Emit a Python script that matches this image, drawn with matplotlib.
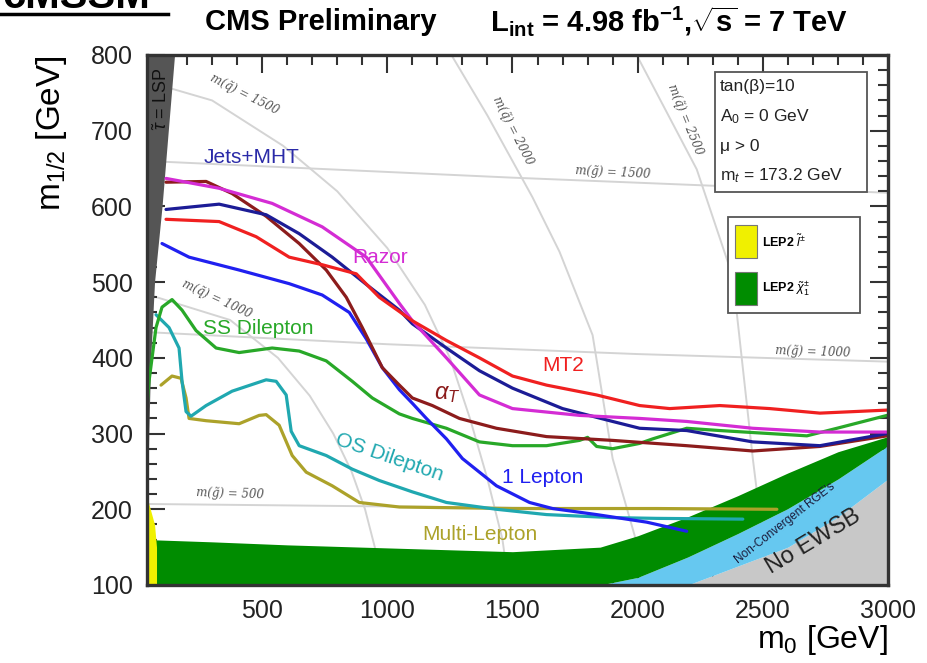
import matplotlib.pyplot as plt
import numpy as np
from matplotlib.ticker import MultipleLocator
from matplotlib.patches import Rectangle

plt.rcParams['font.family'] = ['Liberation Sans', 'DejaVu Sans']
plt.rcParams['mathtext.fontset'] = 'custom'
plt.rcParams['mathtext.rm'] = 'Liberation Sans'
plt.rcParams['mathtext.it'] = 'Liberation Sans:italic'
plt.rcParams['mathtext.bf'] = 'Liberation Sans:bold'

# ---- exclusion limits (m0, m1/2) in GeV ----
razor_m0 = [116, 328, 540, 740, 916, 1048, 1100, 1236, 1368, 1500, 1768, 2008, 2196, 2460, 2728, 2996]
razor_m12 = [637, 624, 604, 573, 533, 472, 449, 400, 351, 333, 324, 320, 316, 307, 302, 302]

mt2_m0 = [116, 328, 476, 608, 740, 876, 968, 1100, 1236, 1368, 1500, 1636, 1836, 2008, 2128, 2328, 2528, 2728, 2996]
mt2_m12 = [583, 580, 560, 533, 523, 511, 480, 449, 423, 400, 376, 364, 351, 337, 333, 337, 333, 327, 331]

jets_m0 = [116, 328, 516, 648, 780, 916, 1048, 1100, 1236, 1368, 1500, 1700, 1900, 2008, 2196, 2460, 2728, 2996]
jets_m12 = [596, 603, 589, 564, 533, 497, 463, 445, 413, 383, 360, 333, 316, 307, 304, 289, 284, 300]

alphat_m0 = [116, 276, 380, 516, 648, 756, 836, 900, 980, 1048, 1100, 1180, 1288, 1436, 1636, 1900, 2196, 2460, 2728, 2996]
alphat_m12 = [632, 633, 617, 587, 551, 516, 480, 440, 387, 364, 347, 337, 320, 307, 296, 291, 284, 277, 283, 297]

onelep_m0 = [100, 208, 408, 608, 740, 848, 916, 980, 1048, 1100, 1156, 1236, 1300, 1436, 1568, 1660, 1836, 2036, 2196]
onelep_m12 = [551, 533, 516, 498, 483, 460, 425, 387, 358, 340, 320, 293, 267, 231, 209, 201, 193, 183, 171]

ss_m0 = [40, 48, 76, 100, 140, 180, 236, 316, 408, 540, 648, 756, 860, 940, 1048, 1100, 1236, 1368,
         1500, 1636, 1768, 1800, 1836, 1900, 2008, 2060, 2196, 2328, 2528, 2676, 2796, 2996]
ss_m12 = [335, 369, 440, 467, 477, 463, 436, 413, 407, 413, 409, 396, 369, 347, 326, 320, 307, 289,
          284, 284, 291, 295, 283, 280, 287, 293, 307, 304, 300, 297, 307, 324]

os_m0 = [76, 128, 168, 180, 196, 216, 276, 380, 516, 556, 596, 616, 648, 756, 860, 968, 1100, 1236,
         1436, 1636, 1900, 2076, 2420]
os_m12 = [457, 440, 413, 369, 329, 323, 337, 356, 371, 369, 351, 303, 284, 271, 253, 238, 223, 209,
          200, 193, 189, 188, 187]

multi_m0 = [96, 140, 176, 196, 208, 276, 408, 488, 516, 568, 620, 676, 780, 888, 1048, 1500, 2076, 2556]
multi_m12 = [364, 376, 373, 347, 320, 317, 313, 324, 325, 311, 271, 249, 231, 209, 203, 201, 201, 200]

# ---- theoretically / LEP excluded regions ----
stau_m12 = [800, 700, 600, 500, 400, 300, 215]
stau_m0 = [150, 125, 100, 70, 55, 47, 42]

slep_m12 = [100, 150, 180, 210]
slep_m0 = [78, 78, 70, 45]

band_m0 = [40, 300, 600, 900, 1200, 1500, 1850, 2000, 2200, 2400, 2600, 2800, 3000]
chi_top = [160, 157, 153, 150, 147, 144, 150, 165, 190, 218, 248, 276, 296]
chi_bot = [100, 100, 100, 100, 100, 100, 100, 110, 137, 168, 201, 240, 284]
ewsb_top = [100, 100, 100, 100, 100, 100, 100, 100, 100, 125, 150, 190, 240]

# ---- iso-mass contours ----
sq1000_m0 = [40, 372, 563, 690, 784, 857, 911, 950, 978]
sq1000_m12 = [484, 450, 400, 350, 300, 250, 200, 150, 100]
sq1500_m0 = [40, 300, 584, 800, 1000, 1150, 1250, 1330, 1400, 1460, 1485]
sq1500_m12 = [765, 740, 680, 620, 545, 470, 400, 320, 240, 160, 100]
sq2000_m0 = [1256, 1400, 1580, 1688, 1760, 1820, 1900, 1996, 2010]
sq2000_m12 = [800, 720, 612, 540, 480, 430, 267, 156, 100]
sq2500_m0 = [1996, 2236, 2380, 2460, 2500, 2516, 2525]
sq2500_m12 = [800, 649, 507, 267, 160, 111, 100]
gl500_m0 = [40, 3000]
gl500_m12 = [207, 197]
gl1000_m0 = [40, 1000, 2000, 3000]
gl1000_m12 = [434, 418, 405, 395]
gl1500_m0 = [40, 1500, 3000]
gl1500_m12 = [660, 638, 618]

fig = plt.figure(figsize=(9.27, 6.63), dpi=100)
ax = fig.add_axes([147 / 927, 1 - 585 / 663, (888 - 147) / 927, (585 - 55) / 663])
ax.set_xlim(40, 3000)
ax.set_ylim(100, 800)

# contours
cc = '#d4d4d4'
for xs, ys in [(sq1000_m0, sq1000_m12), (sq1500_m0, sq1500_m12), (sq2000_m0, sq2000_m12),
               (sq2500_m0, sq2500_m12), (gl500_m0, gl500_m12), (gl1000_m0, gl1000_m12),
               (gl1500_m0, gl1500_m12)]:
    ax.plot(xs, ys, color=cc, lw=1.4, zorder=1)

lab = dict(color='#555555', fontsize=8.5, family='DejaVu Serif', style='italic', zorder=2,
           ha='center', va='center')
ax.text(428, 748, 'm(q̃) = 1500', rotation=-27, **lab)
ax.text(318, 478, 'm(q̃) = 1000', rotation=-25, **lab)
ax.text(1500, 700, 'm(q̃) = 2000', rotation=-63, **lab)
ax.text(2190, 715, 'm(q̃) = 2500', rotation=-68, **lab)
ax.text(1900, 645, 'm(g̃) = 1500', rotation=-3, **lab)
ax.text(2700, 408, 'm(g̃) = 1000', rotation=-2, **lab)
ax.text(370, 220, 'm(g̃) = 500', rotation=-2, **lab)

# filled regions
ax.fill_between(band_m0, 100, ewsb_top, color='#c8c8c8', lw=0, zorder=3)
ax.fill_between(band_m0, ewsb_top, chi_bot, color='#66c8f0', lw=0, zorder=3)
ax.fill_between(band_m0, chi_bot, chi_top, color='#008c00', lw=0, zorder=3)
ax.fill_betweenx(stau_m12, 40, stau_m0, color='#555555', lw=0, zorder=3)
ax.fill_betweenx(slep_m12, 40, slep_m0, color='#f0f000', lw=0, zorder=3)

# limit curves
curves = [
    (multi_m0, multi_m12, '#aca22a'),
    (os_m0, os_m12, '#20a8b0'),
    (ss_m0, ss_m12, '#28a828'),
    (onelep_m0, onelep_m12, '#2020f0'),
    (alphat_m0, alphat_m12, '#8c1c1c'),
    (jets_m0, jets_m12, '#1c1c96'),
    (razor_m0, razor_m12, '#d42cd4'),
    (mt2_m0, mt2_m12, '#f02020'),
]
for xs, ys, c in curves:
    ax.plot(xs, ys, color=c, lw=2.3, solid_capstyle='round', solid_joinstyle='round', zorder=4)

fs = 15
ax.text(265, 658, 'Jets+MHT', color='#2a2aa8', fontsize=fs, zorder=5)
ax.text(860, 525, 'Razor', color='#d42cd4', fontsize=fs, zorder=5)
ax.text(265, 432, 'SS Dilepton', color='#28a828', fontsize=fs, zorder=5)
ax.text(1620, 383, 'MT2', color='#f02020', fontsize=fs, zorder=5)
ax.text(1185, 345, r'$\alpha_T$', color='#8c1c1c', fontsize=fs + 2, zorder=5)
ax.text(1010, 268, 'OS Dilepton', color='#20a8b0', fontsize=fs, rotation=-19, zorder=5,
        ha='center', va='center')
ax.text(1460, 235, '1 Lepton', color='#2020f0', fontsize=fs, zorder=5)
ax.text(1140, 160, 'Multi-Lepton', color='#aca22a', fontsize=fs, zorder=5)
ax.text(2590, 182, "Non-Convergent RGE's", fontsize=8.5, rotation=38, color='#1a1a3a',
        ha='center', va='center', zorder=5)
ax.text(2700, 158, 'No EWSB', fontsize=17, rotation=31, color='#222222',
        ha='center', va='center', zorder=5)
ax.text(98, 742, r'$\tilde{\tau}$ = LSP', fontsize=13, rotation=90, color='#111111',
        ha='center', va='center', zorder=5)

# parameter box (axes fraction)
ax.add_patch(Rectangle((0.7665, 0.7415), 0.205, 0.2265, transform=ax.transAxes,
                       fc='white', ec='#555555', lw=1.3, zorder=6))
for yy, t in zip([0.94, 0.884, 0.827, 0.772],
                 ['tan(β)=10', 'A$_0$ = 0 GeV', 'μ > 0', 'm$_t$ = 173.2 GeV']):
    ax.text(0.773, yy, t, transform=ax.transAxes, fontsize=12.5, color='#222222',
            va='center', ha='left', zorder=7)

# legend box (axes fraction)
ax.add_patch(Rectangle((0.784, 0.513), 0.178, 0.181, transform=ax.transAxes,
                       fc='white', ec='#555555', lw=1.3, zorder=6))
ax.add_patch(Rectangle((0.7935, 0.617), 0.0295, 0.062, transform=ax.transAxes,
                       fc='#f0f000', ec='#777777', lw=0.8, zorder=7))
ax.add_patch(Rectangle((0.7935, 0.528), 0.0295, 0.063, transform=ax.transAxes,
                       fc='#008c00', ec='#777777', lw=0.8, zorder=7))
ax.text(0.83, 0.648, r'LEP2 $\tilde{l}^{\pm}$', transform=ax.transAxes, fontsize=9,
        fontweight='bold', va='center', zorder=7)
ax.text(0.83, 0.560, r'LEP2 $\tilde{\chi}^{\pm}_{1}$', transform=ax.transAxes, fontsize=9,
        fontweight='bold', va='center', zorder=7)

# axes styling
ax.xaxis.set_major_locator(MultipleLocator(500))
ax.xaxis.set_minor_locator(MultipleLocator(100))
ax.yaxis.set_major_locator(MultipleLocator(100))
ax.yaxis.set_minor_locator(MultipleLocator(20))
ax.tick_params(which='both', direction='in', top=True, right=True, width=1.5, colors='#333333',
               labelcolor='#222222', labelsize=18, zorder=8)
ax.tick_params(which='major', length=13, pad=10)
ax.tick_params(which='minor', length=7)
for s in ax.spines.values():
    s.set_linewidth(2.4)
    s.set_color('#333333')
    s.set_zorder(9)

ax.set_xlabel('m$_0$ [GeV]', fontsize=23, loc='right', labelpad=0)
ax.set_ylabel('m$_{1/2}$ [GeV]', fontsize=24, loc='top', labelpad=16)

fig.text(205 / 927, 1 - 22 / 663, 'CMS Preliminary', fontsize=21, fontweight='bold',
         va='center', ha='left')
fig.text(490 / 927, 1 - 22 / 663,
         r'L$_{\mathbf{int}}$ = 4.98 fb$^{\mathbf{-1}}$,$\sqrt{\mathbf{s}}$ = 7 TeV',
         fontsize=21, fontweight='bold', va='center', ha='left')

# clipped header from page
fig.text(2 / 927, 1 - 8 / 663, 'cMSSM', fontsize=30, fontweight='bold', va='baseline', ha='left')
fig.add_artist(plt.Line2D([0, 168 / 927], [1 - 14 / 663, 1 - 14 / 663], color='black', lw=2.5))

fig.savefig('out.png', dpi=100)
